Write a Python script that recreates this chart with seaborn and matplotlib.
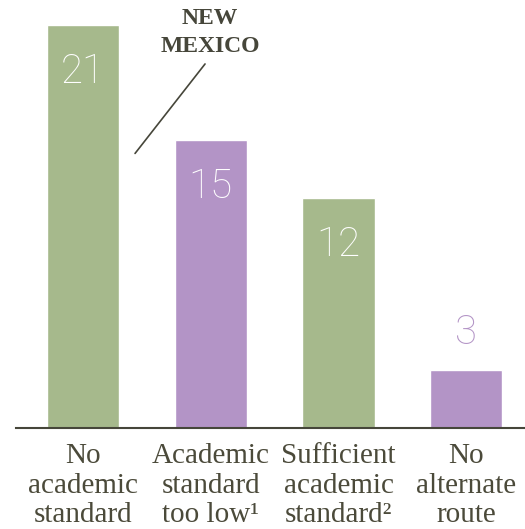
import pandas as pd
import seaborn as sns
import matplotlib.pyplot as plt

# Chart data
categories = ["No\nacademic\nstandard", "Academic\nstandard\ntoo low\u00b9",
              "Sufficient\nacademic\nstandard\u00b2", "No\nalternate\nroute"]
values = [21, 15, 12, 3]
bar_colors = ["#a6b98c", "#b394c6", "#a6b98c", "#b394c6"]

df = pd.DataFrame({"category": categories, "value": values})

sns.set_style("white")
plt.rcParams['font.family'] = ['Liberation Serif', 'DejaVu Serif']

fig = plt.figure(figsize=(5.25, 5.29), dpi=100)
ax = fig.add_axes([16 / 525, 1 - 428 / 529, 509 / 525, 428 / 529])

sns.barplot(data=df, x="category", y="value", hue="category",
            palette=bar_colors, width=0.564, saturation=1, legend=False, ax=ax)

ax.set_xlim(-0.525, 3.46)
ax.set_ylim(0, 428 / 19.2)

# value labels
for i, v in enumerate(values):
    if v > 5:
        ax.text(i, v - 2.45, str(v), ha='center', va='center', color='white',
                fontsize=29, family='Roboto', fontweight='light')
    else:
        ax.text(i, v + 1.95, str(v), ha='center', va='center', color=bar_colors[i],
                fontsize=29, family='Roboto', fontweight='light')

# annotation
ax.text(0.995, 20.6, "NEW\nMEXICO", ha='center', va='center', fontsize=17,
        fontweight='bold', color='#46463a', linespacing=1.45)
ax.annotate("", xy=(0.407, 14.3), xytext=(0.955, 18.96),
            arrowprops=dict(arrowstyle='-', color='#46463a', lw=1.2,
                            shrinkA=0, shrinkB=0))

ax.set_xlabel("")
ax.set_ylabel("")
ax.set_yticks([])
ax.tick_params(axis='x', length=0, pad=11, labelsize=21, labelcolor='#4b4a3a')
for lbl in ax.get_xticklabels():
    lbl.set_linespacing(1.17)

for s in ['top', 'right', 'left']:
    ax.spines[s].set_visible(False)
ax.spines['bottom'].set_color('#46463a')
ax.spines['bottom'].set_linewidth(1.5)

fig.savefig("out.png", dpi=100)
